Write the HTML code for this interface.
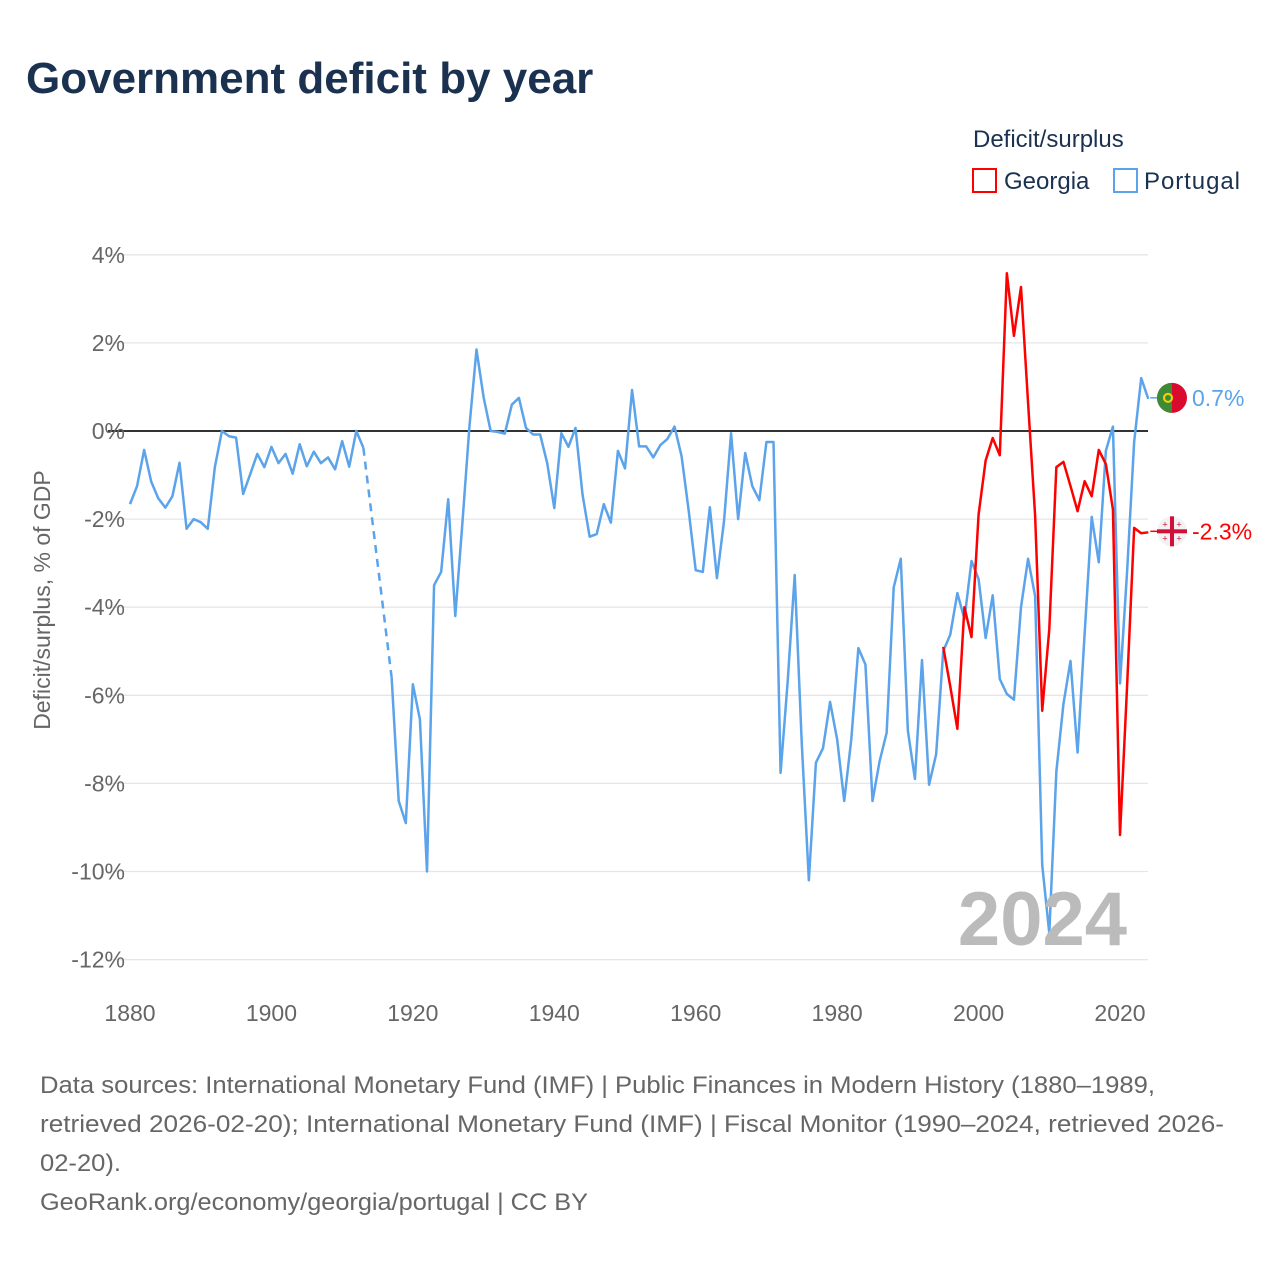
<!DOCTYPE html>
<html><head><meta charset="utf-8">
<style>
body{margin:0;background:#fff;font-family:"Liberation Sans",sans-serif;}
#wrap{position:relative;width:1280px;height:1280px;overflow:hidden;}
</style></head>
<body>
<div id="wrap">
<svg id="chart" width="1280" height="1280" xmlns="http://www.w3.org/2000/svg">
<text x="26" y="93" font-size="44" font-weight="bold" fill="#1a3150">Government deficit by year</text>
<text x="973" y="147" font-size="24" fill="#1a3150">Deficit/surplus</text>
<rect x="973" y="169" width="23" height="23" fill="none" stroke="#f00" stroke-width="2"/>
<text x="1004" y="189" font-size="24" fill="#1a3150">Georgia</text>
<rect x="1114" y="169" width="23" height="23" fill="none" stroke="#5ba3ea" stroke-width="2"/>
<text x="1144" y="189" font-size="24" fill="#1a3150" textLength="96">Portugal</text>
<g id="grid"></g>
<g id="series"></g>
<text x="1127" y="945" font-size="76" font-weight="bold" fill="#bbb" text-anchor="end">2024</text>
<text transform="translate(50,600) rotate(-90)" font-size="23" fill="#666" text-anchor="middle">Deficit/surplus, % of GDP</text>
<g font-size="24" fill="#666">
<text x="40" y="1093" textLength="1115" lengthAdjust="spacingAndGlyphs">Data sources: International Monetary Fund (IMF) | Public Finances in Modern History (1880–1989,</text>
<text x="40" y="1132" textLength="1184" lengthAdjust="spacingAndGlyphs">retrieved 2026-02-20); International Monetary Fund (IMF) | Fiscal Monitor (1990–2024, retrieved 2026-</text>
<text x="40" y="1171" textLength="81" lengthAdjust="spacingAndGlyphs">02-20).</text>
<text x="40" y="1210" textLength="548" lengthAdjust="spacingAndGlyphs">GeoRank.org/economy/georgia/portugal | CC BY</text>
</g>
</svg>
</div>
<script>
const yearStart = 1880;
const portugalValues = [-1.66,-1.25,-0.43,-1.15,-1.53,-1.74,-1.48,-0.72,-2.22,-2.0,
-2.07,-2.22,-0.82,0,-0.12,-0.15,-1.43,-0.98,-0.52,-0.82,
-0.36,-0.73,-0.52,-0.97,-0.3,-0.8,-0.47,-0.73,-0.6,-0.87,
-0.23,-0.81,0,-0.38,null,null,null,-5.6,-8.4,-8.9,
-5.75,-6.55,-10.0,-3.5,-3.2,-1.55,-4.2,-2.1,0.1,1.85,
0.77,0,-0.02,-0.06,0.6,0.75,0.07,-0.08,-0.08,-0.73,
-1.75,-0.05,-0.36,0.07,-1.45,-2.4,-2.34,-1.66,-2.08,-0.45,
-0.85,0.93,-0.35,-0.35,-0.6,-0.32,-0.18,0.1,-0.57,-1.8,
-3.16,-3.2,-1.73,-3.34,-2.05,-0.05,-2.0,-0.5,-1.25,-1.57,
-0.25,-0.25,-7.76,-5.7,-3.27,-7.1,-10.2,-7.53,-7.2,-6.15,
-7.0,-8.4,-7.0,-4.93,-5.3,-8.4,-7.5,-6.85,-3.55,-2.9,
-6.8,-7.9,-5.2,-8.03,-7.34,-5.0,-4.62,-3.68,-4.27,-2.95,
-3.36,-4.7,-3.73,-5.63,-5.97,-6.1,-4.0,-2.9,-3.75,-9.85,
-11.4,-7.73,-6.2,-5.22,-7.3,-4.6,-1.95,-2.98,-0.45,0.1,
-5.73,-3.2,-0.25,1.2,0.73];
const georgiaStart = 1995;
const georgiaValues = [-4.9,-5.8,-6.76,-4.0,-4.68,-1.9,-0.67,-0.16,-0.55,3.58,
2.16,3.27,0.64,-1.93,-6.35,-4.5,-0.82,-0.7,-1.25,-1.82,
-1.14,-1.48,-0.43,-0.75,-1.78,-9.17,-5.8,-2.2,-2.32,-2.3];
const yTicks = [4,2,0,-2,-4,-6,-8,-10,-12];
const xTicks = [1880,1900,1920,1940,1960,1980,2000,2020];

const NS="http://www.w3.org/2000/svg";
function xs(yr){return 130+(yr-1880)*990/140;}
function ys(v){return 431-v*44.05;}
function mk(tag,attrs,parent){const e=document.createElementNS(NS,tag);for(const k in attrs)e.setAttribute(k,attrs[k]);parent.appendChild(e);return e;}
const grid=document.getElementById('grid');
yTicks.forEach(t=>{
  const l=mk('line',{x1:108,x2:1148,y1:ys(t),y2:ys(t),stroke:t===0?'#333':'#e6e6e6','stroke-width':t===0?2:1.3},grid);
  
  
  const tx=mk('text',{x:125,y:ys(t)+8,'font-size':23,fill:'#666','text-anchor':'end'},grid);
  tx.textContent=t+'%';
  
  
});
xTicks.forEach(t=>{
  const tx=mk('text',{x:xs(t),y:1021,'font-size':23,fill:'#666','text-anchor':'middle'},grid);
  tx.textContent=t;
  
  
});
const ser=document.getElementById('series');
function drawSeries(start,vals,color,name){
  let segs=[],cur=[];
  vals.forEach((v,i)=>{if(v===null){if(cur.length)segs.push(cur);cur=[];}else cur.push([xs(start+i),ys(v)]);});
  if(cur.length)segs.push(cur);
  segs.forEach(s=>{
    const p=mk('polyline',{points:s.map(q=>q.join(',')).join(' '),fill:'none',stroke:color,'stroke-width':2.5,'stroke-linejoin':'round'},ser);
    
    
  });
  for(let i=1;i<segs.length;i++){
    const a=segs[i-1][segs[i-1].length-1],b=segs[i][0];
    const d=mk('line',{x1:a[0],y1:a[1],x2:b[0],y2:b[1],stroke:color,'stroke-width':2.5,'stroke-dasharray':'8,6'},ser);
    
    
  }
}
drawSeries(yearStart,portugalValues,'#5ba3ea','portugal');
drawSeries(georgiaStart,georgiaValues,'#ff0000','georgia');
function endLabel(vals,start,color,name,flag){
  const v=vals[vals.length-1],yr=start+vals.length-1,y=ys(v)-1;
  const c=mk('line',{x1:xs(yr)+2,y1:y,x2:1158,y2:y,stroke:color,'stroke-width':1.5},ser);
  
  
  const g=mk('g',{},ser);
  
  
  if(flag==='pt'){
    mk('circle',{cx:1172,cy:y,r:15,fill:'#da0b2f'},g);
    mk('path',{d:`M1172 ${y-15} A15 15 0 0 0 1172 ${y+15} Z`,fill:'#3d8b37'},g);
    mk('circle',{cx:1168,cy:y,r:4,fill:'none',stroke:'#f5d400','stroke-width':2},g);
  } else {
    mk('circle',{cx:1172,cy:y,r:15,fill:'#f2f2f2'},g);
    mk('rect',{x:1170,y:y-15,width:4,height:30,fill:'#d0103a'},g);
    mk('rect',{x:1157,y:y-2,width:30,height:4,fill:'#d0103a'},g);
    [[-7,-7],[7,-7],[-7,7],[7,7]].forEach(o=>{mk('text',{x:1172+o[0],y:y+o[1]+3,'font-size':9,fill:'#d0103a','text-anchor':'middle'},g).textContent='+';});
  }
  const t=mk('text',{x:1192,y:y+8,'font-size':23,fill:color},ser);
  t.textContent=v.toFixed(1)+'%';
  
  
}
endLabel(portugalValues,yearStart,'#5ba3ea','portugal','pt');
endLabel(georgiaValues,georgiaStart,'#ff0000','georgia','ge');
</script>
</body></html>
